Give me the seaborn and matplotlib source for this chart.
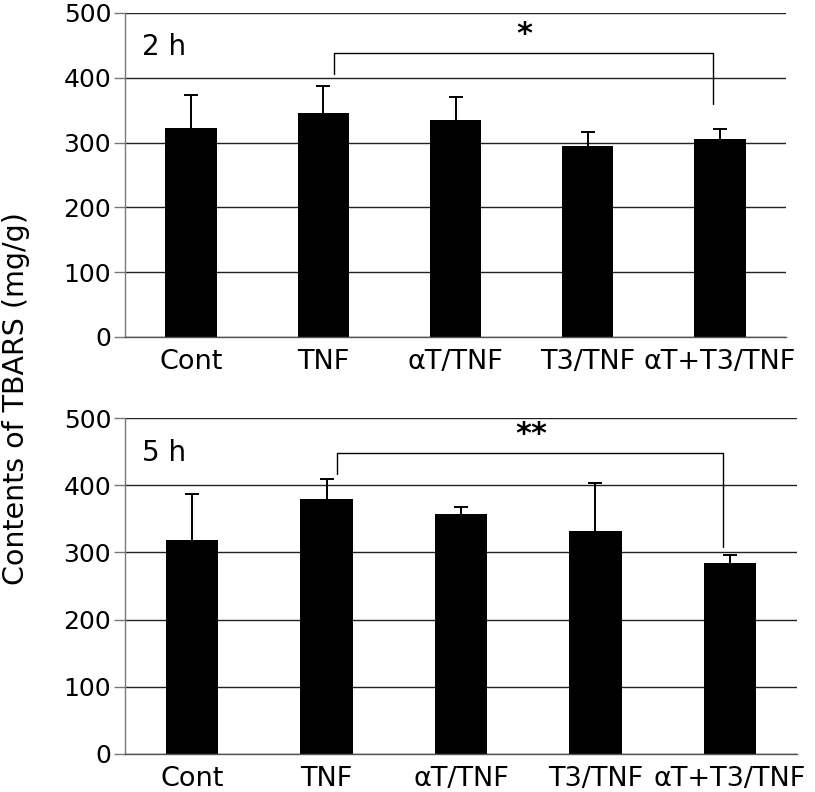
import matplotlib
matplotlib.use("Agg")
import matplotlib.pyplot as plt
import seaborn as sns
import pandas as pd
import numpy as np

categories = ["Cont", "TNF", "αT/TNF", "T3/TNF", "αT+T3/TNF"]
values_2h = [322, 345, 335, 295, 306]
err_top_2h = [373, 388, 371, 317, 321]
values_5h = [318, 380, 357, 332, 284]
err_top_5h = [387, 409, 368, 404, 296]
yticks = [0, 100, 200, 300, 400, 500]

sns.set_theme(style="white")
plt.rcParams['font.family'] = ['DejaVu Sans']
plt.rcParams['text.color'] = 'black'
plt.rcParams['xtick.color'] = 'black'
plt.rcParams['ytick.color'] = 'black'

fig = plt.figure(figsize=(8.15, 7.92), dpi=100)
ax1 = fig.add_axes([0.1534, 0.5745, 0.9644 - 0.1534, 0.9836 - 0.5745])
ax2 = fig.add_axes([0.1534, 0.048, 0.978 - 0.1534, 0.472 - 0.048])


def draw(ax, vals, errs, label, br, stars):
    df = pd.DataFrame({"cat": categories, "val": vals})
    sns.barplot(data=df, x="cat", y="val", color="black", width=0.39,
                errorbar=None, ax=ax, saturation=1, linewidth=0)
    x = np.arange(len(categories))
    ax.vlines(x, vals, errs, color="black", lw=1.4, zorder=5)
    ax.plot(x, errs, ls="none", marker="_", ms=10, mew=1.4, color="black", zorder=5)
    ax.set_ylim(0, 500)
    ax.set_xlim(-0.5, 4.5)
    ax.set_yticks(yticks)
    ax.set_xlabel("")
    ax.set_ylabel("")
    ax.set_axisbelow(True)
    ax.yaxis.grid(True, color="#222222", lw=1.0)
    for s in ["top", "right"]:
        ax.spines[s].set_visible(False)
    ax.spines["left"].set_color("#777777")
    ax.spines["bottom"].set_color("#555555")
    ax.spines["left"].set_linewidth(1.0)
    ax.spines["bottom"].set_linewidth(1.0)
    ax.tick_params(axis="y", which="both", left=True, length=8, width=1,
                   color="#777777", labelsize=18, pad=2)
    ax.tick_params(axis="x", bottom=False, labelsize=19.5, pad=3)
    ax.text(0.025, 0.895, label, transform=ax.transAxes, fontsize=20,
            ha="left", va="center")
    (xa, ya), (xb, yb), ytop = br
    ax.plot([1.08, 1.08, 3.95, 3.95], [ya, ytop, ytop, yb], color="black", lw=1.0)
    ax.text(2.52, ytop + 6, stars, fontsize=22, ha="center", va="bottom",
            fontweight="bold")


draw(ax1, values_2h, err_top_2h, "2 h", ((1, 406), (4, 359), 438), "*")
draw(ax2, values_5h, err_top_5h, "5 h", ((1, 417), (4, 308), 448), "**")

fig.text(0.003, 0.497, "Contents of TBARS (mg/g)", rotation=90, fontsize=20.5,
         ha="left", va="center")

fig.savefig("out.png", dpi=100)
